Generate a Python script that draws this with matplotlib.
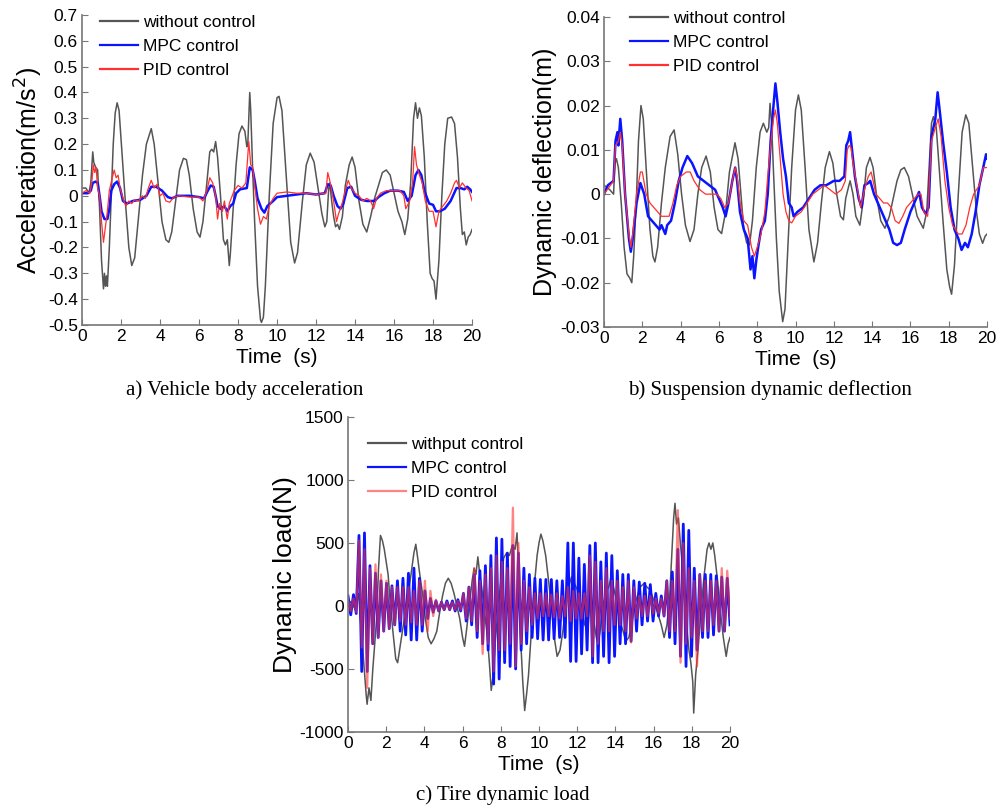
import numpy as np
import matplotlib
matplotlib.use("Agg")
import matplotlib.pyplot as plt

plt.rcParams['axes.unicode_minus'] = False
plt.rcParams['font.family'] = ['Liberation Sans', 'DejaVu Sans']

# ---------------- data: (a) vehicle body acceleration ----------------
a_without = [(0, 0.03), (0.2, 0.03), (0.35, 0.01), (0.45, 0.05), (0.55, 0.17), (0.6, 0.13), (0.7, 0.11),
             (0.8, 0.10), (0.9, -0.05), (1.0, -0.25), (1.1, -0.36), (1.15, -0.30), (1.2, -0.35), (1.25, -0.31),
             (1.3, -0.35), (1.4, -0.2), (1.5, 0.0), (1.6, 0.2), (1.7, 0.32), (1.8, 0.36), (1.9, 0.33), (2.0, 0.22),
             (2.2, 0.0), (2.4, -0.2), (2.55, -0.27), (2.7, -0.24), (2.9, -0.08), (3.1, 0.08), (3.3, 0.2),
             (3.55, 0.26), (3.7, 0.2), (3.9, 0.05), (4.1, -0.1), (4.3, -0.17), (4.45, -0.18), (4.6, -0.14),
             (4.8, -0.02), (5.0, 0.1), (5.2, 0.145), (5.35, 0.14), (5.5, 0.08), (5.7, -0.05), (5.9, -0.14),
             (6.05, -0.16), (6.2, -0.1), (6.4, 0.05), (6.55, 0.17), (6.65, 0.18), (6.75, 0.17), (6.85, 0.21),
             (6.95, 0.15), (7.1, 0.0), (7.25, -0.17), (7.35, -0.19), (7.45, -0.17), (7.55, -0.27), (7.6, -0.23),
             (7.75, -0.05), (7.9, 0.12), (8.05, 0.24), (8.2, 0.27), (8.35, 0.25), (8.45, 0.19), (8.5, 0.20),
             (8.6, 0.40), (8.65, 0.33), (8.75, 0.1), (8.85, -0.1), (9.0, -0.35), (9.15, -0.48), (9.2, -0.49),
             (9.3, -0.47), (9.4, -0.35), (9.6, 0.0), (9.8, 0.28), (10.0, 0.38), (10.1, 0.385), (10.25, 0.33),
             (10.45, 0.1), (10.7, -0.18), (10.9, -0.26), (11.05, -0.22), (11.3, -0.02), (11.5, 0.12),
             (11.7, 0.165), (11.9, 0.13), (12.1, 0.03), (12.3, -0.07), (12.45, -0.12), (12.55, -0.1),
             (12.65, 0.03), (12.7, 0.05), (12.8, -0.02), (12.9, -0.08), (13.0, -0.12), (13.1, -0.11),
             (13.2, -0.13), (13.35, -0.08), (13.5, 0.04), (13.7, 0.12), (13.85, 0.15), (14.0, 0.11),
             (14.2, -0.02), (14.4, -0.11), (14.6, -0.14), (14.8, -0.08), (15.0, -0.01), (15.2, 0.04),
             (15.4, 0.09), (15.6, 0.10), (15.8, 0.08), (16.0, 0.01), (16.2, -0.06), (16.4, -0.1), (16.55, -0.15),
             (16.7, -0.09), (16.85, 0.05), (17.0, 0.3), (17.1, 0.36), (17.2, 0.3), (17.3, 0.34), (17.4, 0.31),
             (17.55, 0.15), (17.7, -0.1), (17.85, -0.3), (17.95, -0.32), (18.05, -0.33), (18.15, -0.40),
             (18.3, -0.25), (18.45, 0.0), (18.6, 0.2), (18.75, 0.3), (18.95, 0.305), (19.1, 0.28), (19.25, 0.15),
             (19.4, -0.05), (19.5, -0.15), (19.6, -0.14), (19.7, -0.19), (19.8, -0.16), (19.9, -0.15), (20.0, -0.13)]

a_mpc = [(0, 0.01), (0.3, 0.01), (0.45, 0.02), (0.55, 0.05), (0.7, 0.055), (0.8, 0.05), (0.9, 0.0),
         (1.0, -0.06), (1.15, -0.09), (1.3, -0.09), (1.4, -0.05), (1.5, 0.02), (1.65, 0.045), (1.8, 0.055),
         (1.95, 0.03), (2.1, -0.02), (2.3, -0.03), (2.6, -0.02), (3.0, -0.015), (3.3, 0.0), (3.55, 0.035),
         (3.8, 0.035), (4.1, 0.02), (4.4, -0.005), (4.6, -0.01), (4.9, 0.0), (5.5, 0.0), (6.0, -0.005),
         (6.25, -0.01), (6.45, 0.02), (6.6, 0.04), (6.75, 0.035), (6.85, 0.0), (6.95, -0.04), (7.1, -0.05),
         (7.3, -0.04), (7.45, -0.06), (7.6, -0.04), (7.75, -0.03), (7.9, 0.01), (8.1, 0.025), (8.45, 0.03),
         (8.6, 0.11), (8.75, 0.1), (8.85, 0.06), (9.0, -0.01), (9.2, -0.05), (9.35, -0.065), (9.5, -0.04),
         (9.8, -0.02), (10.0, -0.005), (10.5, 0.0), (11.0, 0.005), (11.5, 0.01), (12.0, 0.005), (12.45, 0.01),
         (12.6, 0.045), (12.75, 0.04), (12.9, 0.0), (13.1, -0.04), (13.25, -0.05), (13.4, -0.03), (13.6, 0.03),
         (13.8, 0.035), (14.0, 0.0), (14.3, -0.015), (14.6, -0.02), (15.0, -0.02), (15.2, -0.005), (15.5, 0.01),
         (15.8, 0.02), (16.2, 0.02), (16.5, 0.015), (16.7, -0.02), (16.9, 0.0), (17.1, 0.08), (17.25, 0.1),
         (17.4, 0.08), (17.55, 0.02), (17.8, -0.03), (18.0, -0.035), (18.15, -0.06), (18.35, -0.06),
         (18.6, -0.05), (18.9, -0.02), (19.2, 0.03), (19.4, 0.03), (19.6, 0.025), (19.75, 0.035),
         (19.9, 0.025), (20.0, 0.015)]

a_pid = [(0, 0.01), (0.2, 0.02), (0.4, 0.01), (0.5, 0.05), (0.58, 0.12), (0.65, 0.09), (0.72, 0.11), (0.8, 0.03),
         (0.9, 0.0), (1.0, -0.1), (1.1, -0.18), (1.2, -0.12), (1.3, -0.06), (1.4, 0.02), (1.55, 0.07), (1.65, 0.1),
         (1.75, 0.07), (1.85, 0.08), (1.95, 0.03), (2.1, -0.01), (2.25, -0.04), (2.4, -0.02), (2.55, -0.03),
         (2.7, -0.015), (2.9, -0.02), (3.1, 0.0), (3.25, -0.01), (3.4, 0.03), (3.55, 0.06), (3.7, 0.03),
         (3.85, 0.045), (4.0, 0.0), (4.15, 0.01), (4.3, -0.02), (4.5, -0.025), (4.7, -0.005), (5.0, 0.0),
         (5.5, -0.005), (6.0, -0.005), (6.2, -0.02), (6.4, 0.02), (6.55, 0.07), (6.7, 0.05), (6.85, 0.0),
         (6.95, -0.09), (7.05, -0.03), (7.2, -0.06), (7.3, -0.02), (7.45, -0.09), (7.55, -0.03), (7.65, -0.01),
         (7.8, 0.02), (8.0, 0.04), (8.2, 0.03), (8.4, 0.05), (8.55, 0.21), (8.65, 0.12), (8.75, 0.11),
         (8.85, 0.04), (9.0, -0.05), (9.15, -0.11), (9.3, -0.08), (9.45, -0.09), (9.6, -0.04), (9.8, -0.01),
         (10.0, 0.01), (10.5, 0.015), (11.0, 0.01), (11.5, 0.01), (12.0, 0.005), (12.5, 0.01), (12.6, 0.09),
         (12.7, 0.06), (12.8, 0.02), (12.9, -0.02), (13.05, -0.1), (13.15, -0.07), (13.3, -0.04), (13.5, 0.02),
         (13.65, 0.06), (13.8, 0.03), (14.0, 0.01), (14.2, 0.0), (14.4, -0.02), (14.6, -0.01), (14.8, -0.02),
         (14.95, -0.05), (15.1, -0.01), (15.3, 0.01), (15.6, 0.02), (16.0, 0.02), (16.3, 0.02), (16.5, 0.0),
         (16.6, -0.05), (16.8, -0.02), (16.95, 0.05), (17.05, 0.19), (17.15, 0.12), (17.3, 0.08), (17.45, 0.05),
         (17.6, -0.02), (17.8, -0.06), (18.0, -0.06), (18.15, -0.12), (18.3, -0.06), (18.5, -0.04),
         (18.7, -0.02), (18.9, 0.01), (19.1, 0.05), (19.2, 0.06), (19.35, 0.03), (19.5, 0.05), (19.7, 0.03),
         (19.85, 0.02), (20.0, -0.02)]

# ---------------- data: (b) suspension dynamic deflection ----------------
b_without = [(0, 0.002), (0.3, 0.001), (0.5, 0.0), (0.57, 0.007), (0.65, 0.008), (0.75, 0.006), (0.9, -0.002),
             (1.05, -0.012), (1.2, -0.018), (1.35, -0.019), (1.45, -0.020), (1.55, -0.014), (1.7, 0.0),
             (1.8, 0.012), (1.93, 0.020), (2.05, 0.017), (2.2, 0.006), (2.4, -0.008), (2.55, -0.014),
             (2.66, -0.0153), (2.8, -0.012), (3.0, -0.002), (3.2, 0.006), (3.45, 0.013), (3.66, 0.0145),
             (3.85, 0.009), (4.05, 0.0), (4.25, -0.007), (4.49, -0.0107), (4.7, -0.008), (4.9, 0.0),
             (5.1, 0.006), (5.33, 0.0086), (5.55, 0.005), (5.75, -0.003), (5.95, -0.008), (6.14, -0.0089),
             (6.35, -0.004), (6.55, 0.005), (6.84, 0.0116), (7.0, 0.008), (7.15, 0.0), (7.3, -0.008),
             (7.45, -0.011), (7.6, -0.0115), (7.75, -0.006), (7.95, 0.006), (8.15, 0.014), (8.32, 0.016),
             (8.5, 0.014), (8.6, 0.015), (8.67, 0.0205), (8.75, 0.016), (8.85, 0.005), (9.0, -0.010),
             (9.15, -0.022), (9.33, -0.0288), (9.45, -0.026), (9.6, -0.012), (9.8, 0.006), (10.0, 0.019),
             (10.15, 0.0224), (10.3, 0.019), (10.5, 0.006), (10.7, -0.008), (10.96, -0.0153), (11.15, -0.011),
             (11.35, -0.002), (11.55, 0.006), (11.77, 0.0096), (11.95, 0.007), (12.15, 0.0), (12.35, -0.005),
             (12.5, -0.0058), (12.62, -0.001), (12.76, 0.0015), (12.85, 0.003), (13.0, 0.0), (13.15, -0.005),
             (13.36, -0.007), (13.55, -0.001), (13.7, 0.006), (13.89, 0.0083), (14.05, 0.006), (14.25, -0.001),
             (14.45, -0.006), (14.67, -0.0077), (14.9, -0.005), (15.1, -0.001), (15.3, 0.003), (15.5, 0.0055),
             (15.68, 0.006), (15.9, 0.004), (16.1, 0.0), (16.35, -0.005), (16.67, -0.0077), (16.85, -0.004),
             (17.0, 0.008), (17.1, 0.016), (17.2, 0.0175), (17.35, 0.015), (17.5, 0.006), (17.7, -0.006),
             (17.9, -0.017), (18.05, -0.021), (18.15, -0.0226), (18.3, -0.016), (18.5, 0.0), (18.7, 0.014),
             (18.89, 0.0179), (19.05, 0.016), (19.25, 0.006), (19.45, -0.004), (19.6, -0.009), (19.77, -0.0111),
             (19.9, -0.0095), (20.0, -0.009)]

b_mpc = [(0, 0.0), (0.2, 0.002), (0.5, 0.003), (0.6, 0.012), (0.7, 0.014), (0.75, 0.011), (0.85, 0.017),
         (0.95, 0.012), (1.1, 0.0), (1.3, -0.01), (1.4, -0.013), (1.5, -0.01), (1.7, -0.002), (1.9, 0.0025),
         (2.1, 0.0), (2.3, -0.005), (2.5, -0.006), (2.7, -0.007), (2.9, -0.008), (3.0, -0.007), (3.2, -0.009),
         (3.3, -0.007), (3.5, -0.006), (3.7, -0.002), (3.9, 0.003), (4.1, 0.006), (4.35, 0.0086), (4.6, 0.007),
         (4.9, 0.004), (5.2, 0.003), (5.5, 0.002), (5.8, 0.001), (6.0, -0.001), (6.2, -0.003), (6.35, -0.005),
         (6.5, -0.002), (6.7, 0.003), (6.85, 0.006), (6.95, 0.003), (7.1, -0.004), (7.3, -0.008), (7.5, -0.01),
         (7.65, -0.017), (7.75, -0.014), (7.85, -0.019), (7.95, -0.015), (8.05, -0.012), (8.2, -0.008),
         (8.4, -0.006), (8.55, 0.0), (8.7, 0.012), (8.85, 0.02), (8.95, 0.025), (9.05, 0.021), (9.2, 0.014),
         (9.35, 0.008), (9.5, 0.004), (9.65, -0.002), (9.8, -0.003), (9.9, -0.005), (10.1, -0.004),
         (10.4, -0.003), (10.7, -0.001), (11.0, 0.001), (11.3, 0.002), (11.6, 0.002), (12.0, 0.003),
         (12.3, 0.003), (12.55, 0.004), (12.65, 0.011), (12.75, 0.012), (12.85, 0.014), (12.95, 0.01),
         (13.1, 0.004), (13.3, -0.001), (13.45, -0.003), (13.6, 0.002), (13.8, 0.0025), (13.9, 0.003),
         (14.1, 0.0), (14.3, -0.002), (14.5, -0.004), (14.7, -0.006), (14.9, -0.008), (15.1, -0.011),
         (15.3, -0.0115), (15.5, -0.011), (15.7, -0.008), (16.0, -0.004), (16.3, -0.001), (16.45, 0.0005),
         (16.6, -0.003), (16.8, -0.0045), (16.95, -0.003), (17.1, 0.013), (17.3, 0.017), (17.42, 0.023),
         (17.5, 0.02), (17.7, 0.012), (17.9, 0.005), (18.1, -0.003), (18.3, -0.008), (18.5, -0.01),
         (18.67, -0.0126), (18.85, -0.011), (19.0, -0.012), (19.2, -0.009), (19.4, -0.004), (19.6, 0.002),
         (19.8, 0.006), (19.95, 0.009), (20.0, 0.008)]

b_pid = [(0, 0.0), (0.5, 0.003), (0.6, 0.011), (0.75, 0.012), (0.85, 0.014), (0.95, 0.011), (1.1, 0.0),
         (1.3, -0.009), (1.4, -0.012), (1.5, -0.009), (1.7, 0.0), (1.9, 0.005), (2.0, 0.005), (2.2, 0.0),
         (2.4, -0.002), (2.6, -0.003), (2.8, -0.004), (3.0, -0.005), (3.2, -0.005), (3.4, -0.005),
         (3.6, -0.002), (3.8, 0.002), (4.0, 0.004), (4.3, 0.005), (4.5, 0.005), (4.7, 0.003), (5.0, 0.001),
         (5.3, 0.0), (5.6, 0.0), (5.9, 0.0), (6.1, -0.001), (6.3, -0.003), (6.5, -0.002), (6.7, 0.003),
         (6.85, 0.006), (6.95, 0.004), (7.1, -0.002), (7.3, -0.006), (7.5, -0.007), (7.7, -0.012),
         (7.85, -0.014), (8.0, -0.012), (8.2, -0.009), (8.4, -0.004), (8.55, 0.004), (8.7, 0.011),
         (8.85, 0.017), (8.95, 0.019), (9.05, 0.016), (9.2, 0.008), (9.35, 0.0), (9.5, -0.004), (9.65, -0.006),
         (9.8, -0.0065), (10.0, -0.005), (10.3, -0.004), (10.6, -0.002), (10.9, 0.0), (11.2, 0.001),
         (11.5, 0.002), (11.8, 0.001), (12.1, 0.0), (12.4, 0.001), (12.6, 0.003), (12.7, 0.01), (12.8, 0.011),
         (12.9, 0.0105), (13.0, 0.007), (13.2, 0.002), (13.4, -0.003), (13.6, 0.001), (13.8, 0.004),
         (13.95, 0.005), (14.2, 0.0), (14.4, -0.001), (14.6, -0.002), (14.8, -0.002), (15.0, -0.003),
         (15.2, -0.006), (15.4, -0.0066), (15.6, -0.005), (15.8, -0.003), (16.0, -0.002), (16.2, -0.001),
         (16.4, 0.0), (16.55, 0.0), (16.7, -0.004), (16.9, -0.005), (17.1, 0.012), (17.3, 0.015),
         (17.45, 0.017), (17.6, 0.013), (17.8, 0.003), (18.0, -0.003), (18.2, -0.007), (18.5, -0.009),
         (18.7, -0.009), (18.9, -0.007), (19.1, -0.003), (19.3, 0.0), (19.6, 0.002), (19.8, 0.006),
         (20.0, 0.006)]

# ---------------- data: (c) tire dynamic load ----------------
c_without = [(0, 50), (0.2, 20), (0.4, -30), (0.55, 100), (0.7, -200), (0.85, -500), (0.95, -700), (1.0, -780),
             (1.1, -650), (1.2, -750), (1.3, -500), (1.4, -300), (1.5, -100), (1.6, 300), (1.7, 560), (1.8, 520),
             (1.9, 450), (2.0, 350), (2.1, 250), (2.2, 50), (2.35, -200), (2.5, -420), (2.6, -450), (2.7, -350),
             (2.85, -200), (3.0, -50), (3.15, 100), (3.3, 250), (3.45, 420), (3.55, 490), (3.65, 380),
             (3.75, 260), (3.9, 100), (4.05, -100), (4.2, -250), (4.35, -300), (4.5, -260), (4.65, -200),
             (4.8, -50), (4.95, 80), (5.1, 180), (5.25, 220), (5.4, 180), (5.55, 100), (5.7, 0), (5.85, -100),
             (6.0, -250), (6.1, -320), (6.2, -200), (6.35, 0), (6.5, 200), (6.6, 300), (6.7, 250), (6.8, 390),
             (6.9, 250), (7.0, 150), (7.15, -50), (7.3, -250), (7.4, -450), (7.5, -670), (7.6, -550), (7.7, -300),
             (7.85, -50), (8.0, 200), (8.15, 380), (8.3, 420), (8.45, 400), (8.6, 480), (8.75, 450), (8.85, 580),
             (8.95, 200), (9.05, -300), (9.15, -600), (9.25, -830), (9.35, -700), (9.45, -550), (9.6, -200),
             (9.75, 150), (9.9, 400), (10.0, 500), (10.1, 570), (10.2, 520), (10.35, 400), (10.5, 200),
             (10.65, 0), (10.8, -250), (10.95, -400), (11.1, -350), (11.25, -200), (11.4, 0), (11.55, 150),
             (11.7, 230), (11.85, 180), (12.0, 130), (12.2, 0), (12.4, -150), (12.55, -200), (12.7, 100),
             (12.85, -100), (13.0, -250), (13.1, -300), (13.2, -200), (13.35, 0), (13.5, 100), (13.65, 150),
             (13.8, 250), (13.9, 150), (14.05, 50), (14.2, -100), (14.4, -200), (14.55, -280), (14.7, -250),
             (14.85, -150), (15.0, 0), (15.15, 80), (15.3, 150), (15.5, 180), (15.65, 150), (15.8, 130),
             (16.0, 50), (16.2, -50), (16.4, -150), (16.55, -250), (16.7, -150), (16.85, 100), (16.95, 400),
             (17.05, 700), (17.12, 815), (17.2, 650), (17.3, 700), (17.4, 500), (17.55, 250), (17.7, -100),
             (17.85, -350), (17.95, -450), (18.05, -600), (18.1, -850), (18.2, -550), (18.35, -300), (18.5, 0),
             (18.65, 250), (18.8, 450), (18.9, 500), (19.0, 450), (19.1, 500), (19.2, 400), (19.35, 200),
             (19.5, -50), (19.65, -250), (19.8, -400), (19.9, -300), (20.0, -250)]

# alternating peak / trough values of the oscillating controlled loads (7 per second)
c_mpc = [80, -70, 90, -60, 560, -520, 580,
         -520, 320, -300, 260, -250, 200, -200,
         180, -180, 160, -150, 200, -200, 220,
         -230, 260, -270, 300, -270, 220, -200,
         120, -100, 60, -50, 40, -40, 30,
         -30, 40, -30, 40, -40, 50, -40,
         100, -120, 150, -150, 250, -250, 280,
         -300, 320, -350, 400, -620, 540, -580,
         530, -450, 420, -480, 480, -500, 420,
         -350, 300, -300, 250, -250, 220, -260,
         210, -270, 210, -270, 210, -260, 200,
         -250, 200, -250, 500, -440, 500, -440,
         380, -380, 330, -350, 480, -450, 500,
         -450, 350, -400, 420, -450, 400, -400,
         280, -300, 250, -300, 250, -280, 200,
         -200, 190, -150, 180, -120, 170, -120,
         100, -80, 80, -80, 200, -250, 270,
         -300, 450, -400, 650, -480, 600, -400,
         300, -350, 250, -250, 250, -250, 250,
         -230, 240, -200, 230, -200, 220, -150]

c_pid = [50, -40, 60, -50, 520, -330, 450,
         -650, 300, -300, 330, -250, 250, -200,
         200, -180, 150, -150, 150, -120, 150,
         -150, 150, -130, 120, -150, 200, -150,
         200, -200, 120, -80, 50, -40, 30,
         -30, 30, -30, 30, -30, 40, -30,
         100, -100, 150, -120, 300, -200, 200,
         -380, 250, -300, 300, -520, 400, -350,
         350, -350, 300, -300, 780, -480, 500,
         -300, 200, -200, 150, -150, 100, -100,
         100, -80, 100, -80, 90, -90, 100,
         -100, 80, -80, 150, -120, 120, -100,
         100, -100, 100, -80, 400, -400, 350,
         -300, 200, -200, 300, -200, 200, -150,
         200, -150, 150, -200, 200, -290, 150,
         -100, 80, -80, 80, -80, 80, -60,
         60, -60, 60, -80, 200, -200, 200,
         -200, 760, -450, 500, -300, 300, -250,
         200, -480, 250, -200, 200, -200, 200,
         -150, 200, -200, 300, -200, 280, -100]

x_ticks = [0, 2, 4, 6, 8, 10, 12, 14, 16, 18, 20]
a_yticks = [0.7, 0.6, 0.5, 0.4, 0.3, 0.2, 0.1, 0, -0.1, -0.2, -0.3, -0.4, -0.5]
a_ylabels = ['0.7', '0.6', '0.5', '0.4', '0.3', '0.2', '0.1', '0', '-0.1', '-0.2', '-0.3', '-0.4', '-0.5']
b_yticks = [0.04, 0.03, 0.02, 0.01, 0, -0.01, -0.02, -0.03]
b_ylabels = ['0.04', '0.03', '0.02', '0.01', '0', '-0.01', '-0.02', '-0.03']
c_yticks = [1500, 1000, 500, 0, -500, -1000]
c_ylabels = ['1500', '1000', '500', '0', '-500', '-1000']

GRAY = '#555555'
BLUE = '#0a14ff'
RED = '#ff3030'
SPINE = '#777777'

fig = plt.figure(figsize=(10.04, 8.09), dpi=100)
ax_a = fig.add_axes([0.0817, 0.5983, 0.3885, 0.3832])
ax_b = fig.add_axes([0.6016, 0.5958, 0.3815, 0.3832])
ax_c = fig.add_axes([0.3466, 0.0952, 0.3805, 0.3894])


def style(ax, yticks, ylabels, ylim, ylabel, ylsize=18):
    ax.set_xlim(0, 20)
    ax.set_ylim(*ylim)
    ax.set_xticks(x_ticks)
    ax.set_xticklabels([str(v) for v in x_ticks])
    ax.set_yticks(yticks)
    ax.set_yticklabels(ylabels)
    for s in ['top', 'right']:
        ax.spines[s].set_visible(False)
    for s in ['left', 'bottom']:
        ax.spines[s].set_color(SPINE)
        ax.spines[s].set_linewidth(1.2)
    ax.tick_params(direction='in', length=4, width=0.8, colors=SPINE, labelsize=12.5, labelcolor='black', pad=3)
    ax.set_xlabel('Time  (s)', fontsize=15, labelpad=3)
    ax.set_ylabel(ylabel, fontsize=ylsize, labelpad=2)


def pairs(p):
    arr = np.array(p, dtype=float)
    return arr[:, 0], arr[:, 1]


# (a)
t, v = pairs(a_without)
ax_a.plot(t, v, color=GRAY, lw=1.1, label='without control')
t, v = pairs(a_mpc)
ax_a.plot(t, v, color=BLUE, lw=1.8, label='MPC control')
t, v = pairs(a_pid)
ax_a.plot(t, v, color=RED, lw=0.9, label='PID control')
style(ax_a, a_yticks, a_ylabels, (-0.5, 0.7), 'Acceleration(m/s$^2$)')

# (b)
t, v = pairs(b_without)
ax_b.plot(t, v, color=GRAY, lw=1.1, label='without control')
t, v = pairs(b_mpc)
ax_b.plot(t, v, color=BLUE, lw=1.8, label='MPC control')
t, v = pairs(b_pid)
ax_b.plot(t, v, color=RED, lw=0.9, label='PID control')
style(ax_b, b_yticks, b_ylabels, (-0.03, 0.04), 'Dynamic deflection(m)')

# (c)
t, v = pairs(c_without)
ax_c.plot(t, v, color=GRAY, lw=1.1, label='withput control')
tc = np.linspace(0, 20, len(c_mpc))
ax_c.plot(tc, c_mpc, color=BLUE, lw=2.0, label='MPC control')
tp = np.linspace(0, 20, len(c_pid))
ax_c.plot(tp, c_pid, color=RED, lw=1.6, alpha=0.6, label='PID control')
style(ax_c, c_yticks, c_ylabels, (-1000, 1500), 'Dynamic load(N)', ylsize=19)

for ax, anchor in [(ax_a, (0.046, 1.0)), (ax_b, (0.068, 1.02)), (ax_c, (0.052, 0.937))]:
    leg = ax.legend(loc='upper left', bbox_to_anchor=anchor, frameon=False, fontsize=12.5,
                    handlelength=2.2, handletextpad=0.3, labelspacing=0.5, borderaxespad=0, borderpad=0)
    for line in leg.get_lines():
        line.set_linewidth(1.6)

cap_font = dict(family=['Liberation Serif', 'DejaVu Serif'], fontsize=15, ha='center', va='center')
fig.text(245 / 1004, 1 - 390 / 809, 'a) Vehicle body acceleration', **cap_font)
fig.text(770 / 1004, 1 - 390 / 809, 'b) Suspension dynamic deflection', **cap_font)
fig.text(503 / 1004, 1 - 795 / 809, 'c) Tire dynamic load', **cap_font)

fig.savefig('out.png', dpi=100)
